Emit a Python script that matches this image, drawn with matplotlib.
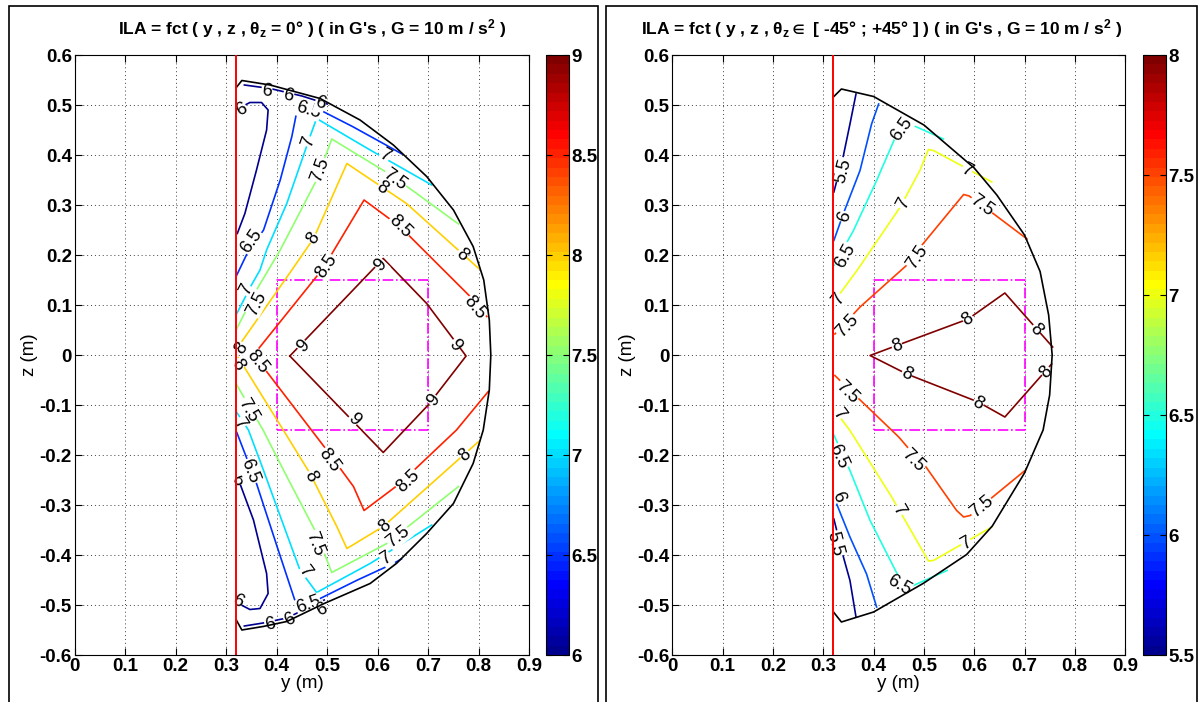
import numpy as np
import matplotlib
matplotlib.use('Agg')
import matplotlib.pyplot as plt
from matplotlib import font_manager
from matplotlib.colors import Normalize, ListedColormap
from matplotlib.cm import ScalarMappable
from matplotlib.ticker import FormatStrFormatter
from matplotlib.patches import Rectangle

# ---------------- data ----------------
x_ticks = [0, 0.1, 0.2, 0.3, 0.4, 0.5, 0.6, 0.7, 0.8, 0.9]
z_ticks = [-0.6, -0.5, -0.4, -0.3, -0.2, -0.1, 0, 0.1, 0.2, 0.3, 0.4, 0.5, 0.6]
y_wall = 0.32
box_y = [0.4, 0.7]
box_z = [-0.15, 0.15]

# left panel : theta_z = 0
left_levels = [6, 6.5, 7, 7.5, 8, 8.5, 9]
left_bound = [(0.32, 0.535), (0.331, 0.549), (0.387, 0.54), (0.486, 0.513), (0.565, 0.47),
              (0.631, 0.42), (0.697, 0.357), (0.75, 0.29), (0.789, 0.217), (0.81, 0.15),
              (0.821, 0.07), (0.824, 0.0), (0.821, -0.07), (0.809, -0.15), (0.789, -0.217),
              (0.75, -0.297), (0.697, -0.357), (0.637, -0.417), (0.585, -0.457), (0.494, -0.497),
              (0.42, -0.533), (0.373, -0.543), (0.331, -0.55), (0.32, -0.53)]
left_c6 = [[(0.322, 0.243), (0.337, 0.283), (0.36, 0.37), (0.38, 0.45), (0.383, 0.49),
            (0.37, 0.505), (0.347, 0.505), (0.324, 0.493)],
           [(0.336, 0.540), (0.387, 0.533), (0.45, 0.518), (0.50, 0.502)],
           [(0.322, -0.243), (0.354, -0.33), (0.38, -0.437), (0.383, -0.477), (0.367, -0.507),
            (0.347, -0.509), (0.324, -0.497)],
           [(0.336, -0.542), (0.373, -0.536), (0.42, -0.526), (0.494, -0.49)]]
left_c65 = [[(0.321, 0.16), (0.34, 0.20), (0.374, 0.25), (0.407, 0.35), (0.43, 0.437),
             (0.443, 0.503), (0.486, 0.49), (0.55, 0.457), (0.62, 0.418), (0.648, 0.402)],
            [(0.321, -0.155), (0.36, -0.257), (0.403, -0.39), (0.44, -0.503), (0.486, -0.487),
             (0.56, -0.45), (0.631, -0.417), (0.647, -0.408)]]
left_c7 = [[(0.321, 0.083), (0.35, 0.14), (0.367, 0.17), (0.38, 0.21), (0.42, 0.303),
            (0.466, 0.437), (0.479, 0.473), (0.585, 0.41), (0.707, 0.34)],
           [(0.321, -0.115), (0.344, -0.15), (0.37, -0.22), (0.4, -0.303), (0.446, -0.43),
            (0.479, -0.475), (0.585, -0.417), (0.707, -0.34)]]
left_c75 = [[(0.321, 0.053), (0.36, 0.13), (0.407, 0.21), (0.479, 0.35), (0.509, 0.432),
             (0.631, 0.357), (0.76, 0.262)],
            [(0.321, -0.06), (0.373, -0.15), (0.42, -0.243), (0.479, -0.357), (0.509, -0.435),
             (0.618, -0.377), (0.76, -0.263)]]
left_c8 = [[(0.324, 0.017), (0.43, 0.17), (0.473, 0.233), (0.539, 0.383), (0.657, 0.303),
            (0.8, 0.173)],
           [(0.324, -0.005), (0.413, -0.15), (0.466, -0.237), (0.519, -0.343), (0.539, -0.387),
            (0.611, -0.343), (0.8, -0.173)]]
left_c85 = [[(0.816, 0.077), (0.783, 0.117), (0.644, 0.257), (0.573, 0.31), (0.506, 0.197),
             (0.479, 0.157), (0.354, 0.0), (0.38, -0.033), (0.499, -0.19), (0.552, -0.263),
             (0.573, -0.311), (0.644, -0.257), (0.756, -0.15), (0.819, -0.073)]]
left_c9 = [[(0.426, -0.002), (0.611, 0.193), (0.697, 0.103), (0.775, -0.002), (0.70, -0.10),
            (0.611, -0.195), (0.426, -0.002)]]
left_lines = [left_c6, left_c65, left_c7, left_c75, left_c8, left_c85, left_c9]
left_labels = [(6, 0.331, 0.491), (6, 0.38, 0.527), (6, 0.423, 0.518), (6.5, 0.463, 0.49),
               (6, 0.486, 0.503), (7, 0.463, 0.427), (7.5, 0.486, 0.37), (8, 0.473, 0.233),
               (8.5, 0.499, 0.177), (7, 0.614, 0.398), (7.5, 0.634, 0.35), (8, 0.609, 0.333),
               (8.5, 0.644, 0.257), (8, 0.766, 0.2), (8.5, 0.793, 0.094), (6.5, 0.35, 0.227),
               (7, 0.34, 0.13), (7.5, 0.36, 0.103), (8, 0.331, 0.013), (8.5, 0.362, -0.013),
               (8, 0.322, -0.02), (7.5, 0.344, -0.11), (7, 0.327, -0.137), (6, 0.322, -0.25),
               (6.5, 0.347, -0.233), (9, 0.606, 0.18), (9, 0.453, 0.017), (9, 0.753, 0.02),
               (9, 0.71, -0.09), (9, 0.552, -0.13), (8.5, 0.505, -0.21), (8, 0.466, -0.243),
               (8.5, 0.661, -0.253), (8, 0.773, -0.2), (8, 0.614, -0.343), (7.5, 0.641, -0.363),
               (7.5, 0.476, -0.377), (7, 0.456, -0.433), (7, 0.617, -0.407), (6, 0.322, -0.493),
               (6.5, 0.463, -0.5), (6, 0.489, -0.51), (6, 0.387, -0.54), (6, 0.426, -0.53)]

# right panel : theta_z in [-45 ; +45]
right_levels = [5.5, 6, 6.5, 7, 7.5, 8]
right_bound = [(0.321, 0.517), (0.336, 0.532), (0.40, 0.517), (0.50, 0.46), (0.60, 0.374),
               (0.645, 0.32), (0.70, 0.24), (0.731, 0.167), (0.748, 0.08), (0.755, 0.0),
               (0.75, -0.08), (0.737, -0.15), (0.70, -0.236), (0.636, -0.342), (0.585, -0.399),
               (0.50, -0.456), (0.40, -0.514), (0.336, -0.534), (0.321, -0.515)]
right_c55 = [[(0.321, 0.326), (0.34, 0.399), (0.353, 0.462), (0.365, 0.522)],
             [(0.321, -0.328), (0.34, -0.404), (0.353, -0.451), (0.365, -0.524)]]
right_c6 = [[(0.321, 0.229), (0.34, 0.283), (0.373, 0.369), (0.396, 0.462), (0.41, 0.502)],
            [(0.321, -0.284), (0.353, -0.364), (0.386, -0.438), (0.406, -0.504)]]
right_c65 = [[(0.321, 0.179), (0.36, 0.249), (0.406, 0.349), (0.446, 0.442), (0.456, 0.456),
              (0.479, 0.459), (0.539, 0.432)],
             [(0.321, -0.16), (0.353, -0.231), (0.393, -0.331), (0.45, -0.444), (0.479, -0.461),
              (0.546, -0.431)]]
right_c7 = [[(0.323, 0.109), (0.367, 0.169), (0.453, 0.296), (0.492, 0.369), (0.509, 0.411),
             (0.519, 0.409), (0.635, 0.346)],
            [(0.323, -0.111), (0.353, -0.151), (0.436, -0.284), (0.493, -0.384), (0.509, -0.412),
             (0.519, -0.411), (0.635, -0.344)]]
right_c75 = [[(0.323, 0.042), (0.373, 0.096), (0.473, 0.186), (0.493, 0.216), (0.579, 0.321),
              (0.59, 0.318), (0.635, 0.285), (0.705, 0.232)],
             [(0.323, -0.041), (0.367, -0.084), (0.45, -0.164), (0.473, -0.191), (0.5, -0.218),
              (0.565, -0.311), (0.579, -0.324), (0.592, -0.321), (0.701, -0.231)]]
right_c8 = [[(0.756, 0.016), (0.661, 0.124), (0.588, 0.072), (0.446, 0.019), (0.393, -0.001),
             (0.466, -0.038), (0.608, -0.094), (0.661, -0.124), (0.754, -0.018)]]
right_lines = [right_c55, right_c6, right_c65, right_c7, right_c75, right_c8]
right_labels = [(5.5, 0.34, 0.369), (6, 0.343, 0.276), (6.5, 0.343, 0.199), (6.5, 0.456, 0.452),
                (7, 0.459, 0.302), (7, 0.585, 0.369), (7.5, 0.615, 0.299), (7.5, 0.486, 0.196),
                (7, 0.33, 0.112), (7.5, 0.347, 0.059), (8, 0.447, 0.017), (8, 0.588, 0.072),
                (8, 0.722, 0.05), (8, 0.466, -0.038), (8, 0.608, -0.097), (8, 0.744, -0.034),
                (7.5, 0.347, -0.074), (7, 0.33, -0.118), (6.5, 0.33, -0.204), (6, 0.33, -0.284),
                (5.5, 0.323, -0.378), (7.5, 0.479, -0.211), (7.5, 0.615, -0.304),
                (7, 0.45, -0.311), (7, 0.585, -0.378), (6.5, 0.45, -0.461)]

left_title = r"ILA = fct ( y , z , $\theta_z$ = 0° ) ( in G's , G = 10 m / s$^2$ )"
right_title = r"ILA = fct ( y , z , $\theta_z \in$ [ -45° ; +45° ] ) ( in G's , G = 10 m / s$^2$ )"

# ---------------- fonts ----------------
names = {f.name for f in font_manager.fontManager.ttflist}
if 'Liberation Sans Narrow' in names:
    FONT, FS, FT = 'Liberation Sans Narrow', 14, 14
else:
    FONT, FS, FT = 'Liberation Sans', 13.5, 12.5
plt.rcParams['font.family'] = [FONT, 'DejaVu Sans']
plt.rcParams['font.weight'] = 'bold'
plt.rcParams['mathtext.fontset'] = 'custom'
plt.rcParams['mathtext.rm'] = FONT + ':bold'
plt.rcParams['mathtext.it'] = FONT + ':bold'
plt.rcParams['mathtext.bf'] = FONT + ':bold'
plt.rcParams['mathtext.default'] = 'bf'
plt.rcParams['mathtext.fallback'] = 'stix'


# MATLAB style jet(64)
def matlab_jet(m=64):
    n = int(np.ceil(m / 4))
    u = np.concatenate([np.arange(1, n + 1) / n, np.ones(n - 1), np.arange(n, 0, -1) / n])
    g = int(np.ceil(n / 2)) - (1 if m % 4 == 1 else 0) + np.arange(1, len(u) + 1)
    J = np.zeros((m, 3))
    for idx, col in [(g + n, 0), (g, 1), (g - n, 2)]:
        ok = (idx >= 1) & (idx <= m)
        J[idx[ok] - 1, col] = u[ok]
    return ListedColormap(J)


cmap = matlab_jet(64)
W, H = 1203, 702
fig = plt.figure(figsize=(W / 100, H / 100), dpi=100)

# window frames
for x0, x1 in [(9, 598), (606, 1197)]:
    fig.add_artist(Rectangle((x0 / W, -0.1), (x1 - x0) / W, 1.1 - 6 / H, fill=False,
                             ec='black', lw=1.2, transform=fig.transFigure))


def label_angle(ax, branches, y, z):
    p = ax.transData.transform((y, z))
    best, ang = 1e9, 0.0
    for br in branches:
        pts = ax.transData.transform(np.array(br))
        for a, b in zip(pts[:-1], pts[1:]):
            d = b - a
            t = np.clip(np.dot(p - a, d) / max(np.dot(d, d), 1e-9), 0, 1)
            dist = np.hypot(*(a + t * d - p))
            if dist < best:
                best = dist
                ang = np.degrees(np.arctan2(d[1], d[0]))
    if ang > 90:
        ang -= 180
    if ang < -90:
        ang += 180
    return ang


def panel(ax_px, cb_px, levels, lines, bound, labels, title, title_x):
    x0, x1 = ax_px
    ax = fig.add_axes([x0 / W, (H - 655) / H, (x1 - x0) / W, 600 / H])
    cax = fig.add_axes([cb_px[0] / W, (H - 655) / H, (cb_px[1] - cb_px[0]) / W, 600 / H])
    ax.set_xlim(0, 0.9)
    ax.set_ylim(-0.6, 0.6)
    ax.set_xticks(x_ticks)
    ax.set_yticks(z_ticks)
    ax.xaxis.set_major_formatter(FormatStrFormatter('%g'))
    ax.yaxis.set_major_formatter(FormatStrFormatter('%g'))
    ax.tick_params(direction='in', top=True, right=True, length=5, width=0.8,
                   labelsize=FS, pad=2)
    ax.grid(True, linestyle=(0, (1, 3)), color='0.25', linewidth=0.7, zorder=0)
    ax.set_axisbelow(True)
    for s in ax.spines.values():
        s.set_linewidth(0.8)

    norm = Normalize(levels[0], levels[-1])
    for lev, branches in zip(levels, lines):
        for br in branches:
            y, z = zip(*br)
            ax.plot(y, z, color=cmap(norm(lev)), lw=1.2, zorder=3)

    by, bz = zip(*bound)
    ax.plot(by, bz, color='black', lw=1.2, zorder=5)
    ax.axvline(y_wall, color='red', lw=1.4, zorder=6)
    ax.plot([box_y[0], box_y[1], box_y[1], box_y[0], box_y[0]],
            [box_z[0], box_z[0], box_z[1], box_z[1], box_z[0]],
            color='magenta', lw=1.2, linestyle='-.', zorder=2.5)

    for lev, y, z in labels:
        ang = label_angle(ax, lines[levels.index(lev)], y, z)
        ax.text(y, z, '%g' % lev, rotation=ang, rotation_mode='anchor', ha='center',
                va='center', fontsize=13, fontweight='normal',
                family=['Liberation Sans', 'DejaVu Sans'],
                bbox=dict(fc='white', ec='none', pad=0.2), zorder=4)

    ax.set_xlabel('y (m)', fontsize=FS, labelpad=0)
    ax.set_ylabel('z (m)', fontsize=FS, labelpad=1)
    fig.text(title_x / W, 1 - 29 / H, title, ha='center', va='center', fontsize=FT)

    sm = ScalarMappable(norm=norm, cmap=cmap)
    cb = fig.colorbar(sm, cax=cax, ticks=levels)
    cb.ax.yaxis.set_major_formatter(FormatStrFormatter('%g'))
    cax.tick_params(direction='in', left=True, right=True, length=4, width=0.8,
                    labelsize=FS, pad=2)
    cb.outline.set_linewidth(0.8)


panel((74.7, 529.2), (545.5, 568.5), left_levels, left_lines, left_bound, left_labels,
      left_title, 312)
panel((672.4, 1125.1), (1143, 1165.5), right_levels, right_lines, right_bound, right_labels,
      right_title, 882)

fig.savefig('out.png', dpi=100)
